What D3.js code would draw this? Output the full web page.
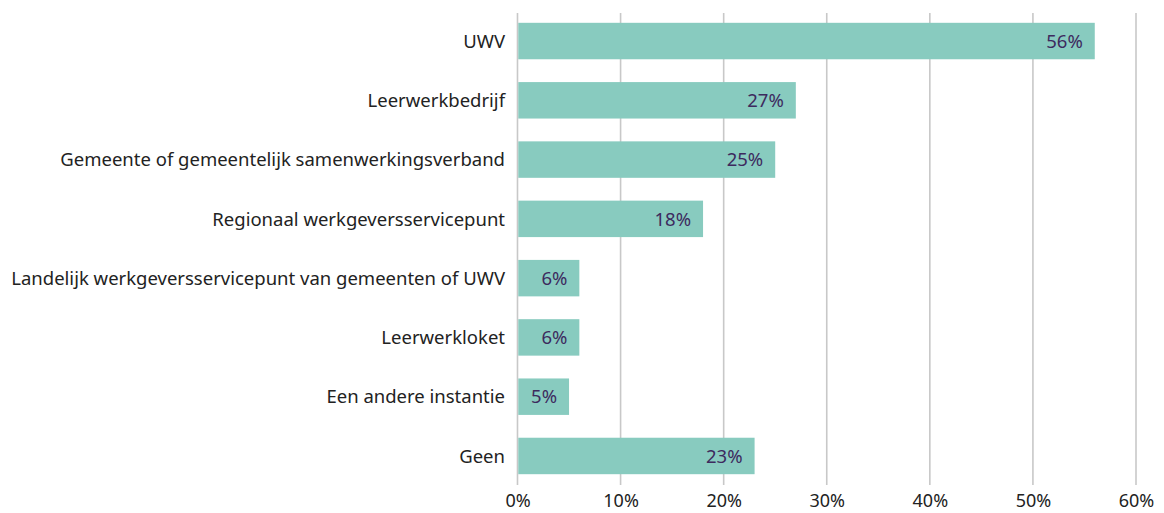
<!DOCTYPE html>
<html>
<head>
<meta charset="utf-8">
<script src="https://cdn.jsdelivr.net/npm/d3@7"></script>
<style>
  html, body { margin: 0; padding: 0; background: #fff; }
  text { font-family: "Noto Sans", "Open Sans", sans-serif; }
</style>
</head>
<body>
<div id="chart"></div>
<script>
var categories = [
  "UWV",
  "Leerwerkbedrijf",
  "Gemeente of gemeentelijk samenwerkingsverband",
  "Regionaal werkgeversservicepunt",
  "Landelijk werkgeversservicepunt van gemeenten of UWV",
  "Leerwerkloket",
  "Een andere instantie",
  "Geen"
];
var values = [56, 27, 25, 18, 6, 6, 5, 23];
var tickValues = [0, 10, 20, 30, 40, 50, 60];

var width = 1164, height = 513;

var svg = d3.select("#chart").append("svg")
  .attr("width", width)
  .attr("height", height);

var x = d3.scaleLinear().domain([0, 60]).range([517.5, 1136]);
var y = d3.scaleBand()
  .domain(categories)
  .range([11.4, 485.6])
  .paddingInner(0.385)
  .paddingOuter(0.1925);

// gridlines
svg.append("g")
  .selectAll("line")
  .data(tickValues)
  .join("line")
  .attr("x1", function (d) { return x(d); })
  .attr("x2", function (d) { return x(d); })
  .attr("y1", 13)
  .attr("y2", 485)
  .attr("stroke", "#c8c8c8")
  .attr("stroke-width", 1.6);

// bars
svg.append("g")
  .selectAll("rect")
  .data(values)
  .join("rect")
  .attr("x", x(0) + 0.8)
  .attr("y", function (d, i) { return y(categories[i]); })
  .attr("width", function (d) { return x(d) - x(0) - 0.8; })
  .attr("height", y.bandwidth())
  .attr("fill", "#88cbbf");

// value labels
svg.append("g")
  .selectAll("text")
  .data(values)
  .join("text")
  .attr("x", function (d) { return x(d) - 12; })
  .attr("y", function (d, i) { return y(categories[i]) + y.bandwidth() / 2; })
  .attr("dy", "0.36em")
  .attr("text-anchor", "end")
  .attr("fill", "#3d2a5e")
  .style("font-size", "18.5px")
  .text(function (d) { return d + "%"; });

// category axis
var yAxis = svg.append("g")
  .attr("transform", "translate(505,0)")
  .call(d3.axisLeft(y).tickSize(0).tickPadding(0));
yAxis.select(".domain").remove();
yAxis.selectAll("text")
  .attr("fill", "#222")
  .attr("dy", "0.36em")
  .style("font-size", "18.5px")
  .style("font-family", "'Noto Sans', 'Open Sans', sans-serif");

// value axis
var xAxis = svg.append("g")
  .attr("transform", "translate(0,494)")
  .call(d3.axisBottom(x).tickValues(tickValues).tickSize(0).tickPadding(0)
    .tickFormat(function (d) { return d + "%"; }));
xAxis.select(".domain").remove();
xAxis.selectAll("text")
  .attr("fill", "#222")
  .attr("dy", "0.71em")
  .style("font-size", "18px")
  .style("font-family", "'Noto Sans', 'Open Sans', sans-serif");
</script>
</body>
</html>
